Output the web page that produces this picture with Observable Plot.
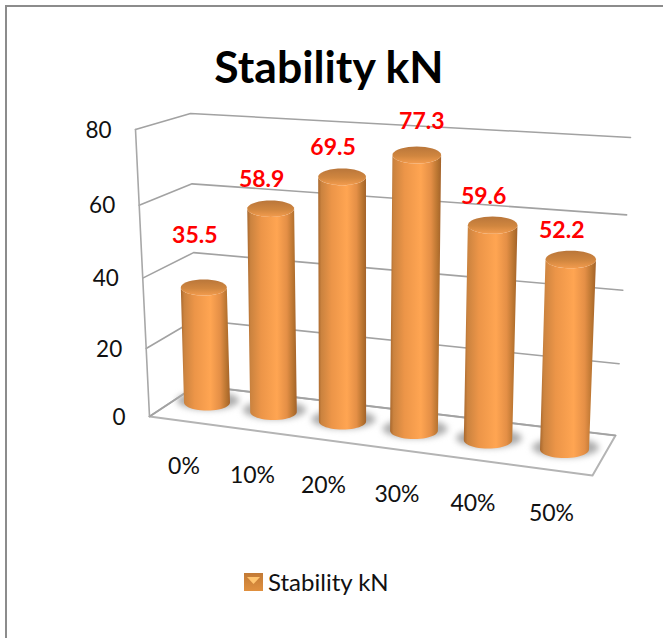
<!DOCTYPE html>
<html>
<head>
<meta charset="utf-8">
<script src="https://cdn.jsdelivr.net/npm/d3@7"></script>
<script src="https://cdn.jsdelivr.net/npm/@observablehq/plot@0.6"></script>
<style>
  html, body { margin: 0; padding: 0; background: #fff; overflow: hidden; }
  #frame { position: absolute; left: 5px; top: 5px; width: 658px; height: 633px;
           border-left: 2px solid #8c8c8c; border-top: 2px solid #8c8c8c; box-sizing: border-box; }
  #title { height: 93px; margin: 0; text-align: center; font: 700 44.5px Lato, sans-serif; color: #000;
           line-height: 118px; padding-right: 12px; box-sizing: border-box; white-space: nowrap; }
  #legend { position: absolute; left: 237px; top: 560px; display: flex; align-items: center; gap: 5px;
            font: 400 24px Lato, sans-serif; color: #111; }
  #plot svg { display: block; }
</style>
</head>
<body>
<div id="frame">
  <h1 id="title">Stability kN</h1>
  <div id="plot"></div>
  <div id="legend">
    <svg width="19" height="18" viewBox="0 0 19 18">
      <defs><linearGradient id="swatch" x1="0" y1="0" x2="0" y2="1">
        <stop offset="0" stop-color="#c27a36"/><stop offset="1" stop-color="#e0903f"/>
      </linearGradient></defs>
      <rect width="19" height="18" fill="url(#swatch)"/>
      <path d="M3 4H16L9.5 11Z" fill="#ffc46f"/>
    </svg>
    <span>Stability kN</span>
  </div>
</div>
<script>
const categories = ["0%", "10%", "20%", "30%", "40%", "50%"];
const stability = [35.5, 58.9, 69.5, 77.3, 59.6, 52.2];
const valueTicks = [0, 20, 40, 60, 80];
const seriesName = "Stability kN";

// The page-space window covered by the svg.
const left = 7, top_ = 100, plotW = 656, plotH = 445;

// Perspective map from the unit square onto a quadrilateral.
function perspective([x0, y0], [x1, y1], [x2, y2], [x3, y3]) {
  const sx = x0 - x1 + x2 - x3, sy = y0 - y1 + y2 - y3;
  const dx1 = x1 - x2, dx2 = x3 - x2, dy1 = y1 - y2, dy2 = y3 - y2;
  const den = dx1 * dy2 - dx2 * dy1;
  const g = (sx * dy2 - dx2 * sy) / den, h = (dx1 * sy - sx * dy1) / den;
  const a = x1 - x0 + g * x1, b = x3 - x0 + h * x3, d = y1 - y0 + g * y1, e = y3 - y0 + h * y3;
  return (u, v) => {
    const w = g * u + h * v + 1;
    return [(a * u + b * v + x0) / w, (d * u + e * v + y0) / w];
  };
}

const vMax = d3.max(valueTicks);
// Front and back planes of the 3D box.
const frontPlane = perspective([149, 416], [592, 475], [613, 160], [135, 129]);
const backPlane = perspective([196, 385], [615, 435], [630, 137], [190, 113]);

// A column's axis: the foot drifts right and down along the floor, spacing widening
// towards the viewer, and the axis leans outward away from the centre of the view.
const foot = (i) => [206.5 + 66.5 * i + 1.25 * i * (i - 1), 402 + 9.4 * i];
const risePerUnit = (i) => 3.24 + 0.4 * Math.pow(i / 5, 0.4);
const leanPerUnit = (i) => -0.09 + 0.042 * i;
const onAxis = (i, v) => {
  const [x, y] = foot(i);
  return [x + leanPerUnit(i) * v, y - risePerUnit(i) * v];
};

const toRow = (id, pts) => pts.map(([x, y]) => ({id, x, y}));

// Gridlines wrap from the front-left edge to the back corner, then along the back wall.
const gridRows = valueTicks.flatMap((v) =>
  toRow(`grid${v}`, [frontPlane(0, v / vMax), backPlane(0, v / vMax), backPlane(1, v / vMax)]));
const edgeRows = toRow("edge", [frontPlane(0, 1), frontPlane(0, 0)]);
const floorRows = toRow("floor", [frontPlane(0, 0), frontPlane(1, 0), backPlane(1, 0), backPlane(0, 0)]);

const squash = 0.35;
const turns = d3.range(0, 37).map((k) => (k / 36) * 2 * Math.PI);
const columns = stability.map((value, i) => ({
  i, value,
  base: onAxis(i, 0), top: onAxis(i, value),
  rb: 23 + 0.3 * i, rt: 23 + 0.45 * i
}));
const arc = ([cx, cy], r, from, to) =>
  d3.range(0, 25).map((k) => {
    const t = from + ((to - from) * k) / 24;
    return [cx + r * Math.cos(t), cy + r * squash * Math.sin(t)];
  });

const bodyRows = columns.flatMap((c) => toRow(`body${c.i}`, [
  ...arc(c.top, c.rt, Math.PI, 0),
  ...arc(c.base, c.rb, 0, Math.PI)
]));
const capRows = columns.flatMap((c) =>
  toRow(`cap${c.i}`, turns.map((t) => [c.top[0] + c.rt * Math.cos(t), c.top[1] + c.rt * squash * Math.sin(t)])));
const shadowRows = columns.flatMap((c) =>
  toRow(`shadow${c.i}`, turns.map((t) => [c.base[0] + 1 + c.rb * 1.36 * Math.cos(t), c.base[1] - 2 + c.rb * 0.4 * Math.sin(t)])));

// Value labels sit above the column caps; the shortest column's label clears it further.
const valueLabels = columns.map((c) => ({
  text: c.value.toFixed(1),
  x: c.top[0] + (c.i === 3 ? 5 : -9),
  y: c.top[1] + (c.i === 0 ? -52 : c.i === 3 ? -33 : -29)
}));
const categoryLabels = categories.map((text, i) => {
  const [x, y] = onAxis(i, 0);
  return {text, x: x - 23 + 2 * i, y: y + 64};
});
const tickLabels = valueTicks.map((v) => {
  const [x, y] = frontPlane(0, v / vMax);
  return {text: String(v), x: x - 24, y: y + 1};
});

const font = "Lato, sans-serif";
const chart = Plot.plot({
  width: plotW,
  height: plotH,
  margin: 0,
  x: {domain: [left, left + plotW], range: [0, plotW], axis: null},
  y: {domain: [top_, top_ + plotH], range: [0, plotH], axis: null},
  style: {background: "transparent", overflow: "visible"},
  marks: [
    Plot.line(floorRows, {x: "x", y: "y", z: "id", stroke: "#b4b4b4", strokeWidth: 2, curve: "linear-closed", fill: "#fff"}),
    Plot.line(gridRows, {x: "x", y: "y", z: "id", stroke: "#a2a2a2", strokeWidth: 1.6}),
    Plot.line(edgeRows, {x: "x", y: "y", z: "id", stroke: "#a8a8a8", strokeWidth: 1.6}),
    Plot.line(shadowRows, {x: "x", y: "y", z: "id", fill: "#adadad", stroke: null, curve: "linear-closed", imageFilter: "blur(3px)"}),
    Plot.line(bodyRows, {x: "x", y: "y", z: "id", fill: "url(#column)", stroke: null, curve: "linear-closed"}),
    Plot.line(capRows, {x: "x", y: "y", z: "id", fill: "url(#cap)", stroke: null, curve: "linear-closed"}),
    Plot.text(valueLabels, {x: "x", y: "y", text: "text", fill: "#ff0000", fontSize: 23, fontWeight: 700, fontFamily: font}),
    Plot.text(tickLabels, {x: "x", y: "y", text: "text", fill: "#111", fontSize: 22.5, textAnchor: "end", fontFamily: font}),
    Plot.text(categoryLabels, {x: "x", y: "y", text: "text", fill: "#111", fontSize: 23, fontFamily: font})
  ]
});

// Shading for the cylinders: lit from just right of centre, dark at both rims.
chart.insertAdjacentHTML("afterbegin", `
  <defs>
    <linearGradient id="column" x1="0" y1="0" x2="1" y2="0">
      <stop offset="0" stop-color="#a8682e"/>
      <stop offset="0.07" stop-color="#cb833f"/>
      <stop offset="0.28" stop-color="#ec9548"/>
      <stop offset="0.6" stop-color="#ffa552"/>
      <stop offset="0.8" stop-color="#e48f46"/>
      <stop offset="0.93" stop-color="#b87430"/>
      <stop offset="1" stop-color="#a3622a"/>
    </linearGradient>
    <linearGradient id="cap" x1="0" y1="0" x2="0" y2="1">
      <stop offset="0" stop-color="#b9763a"/>
      <stop offset="0.55" stop-color="#d0863f"/>
      <stop offset="1" stop-color="#f39c4e"/>
    </linearGradient>
  </defs>`);

document.getElementById("plot").append(chart);
document.querySelector("#legend span").textContent = seriesName;
document.getElementById("title").textContent = seriesName;
</script>
</body>
</html>
